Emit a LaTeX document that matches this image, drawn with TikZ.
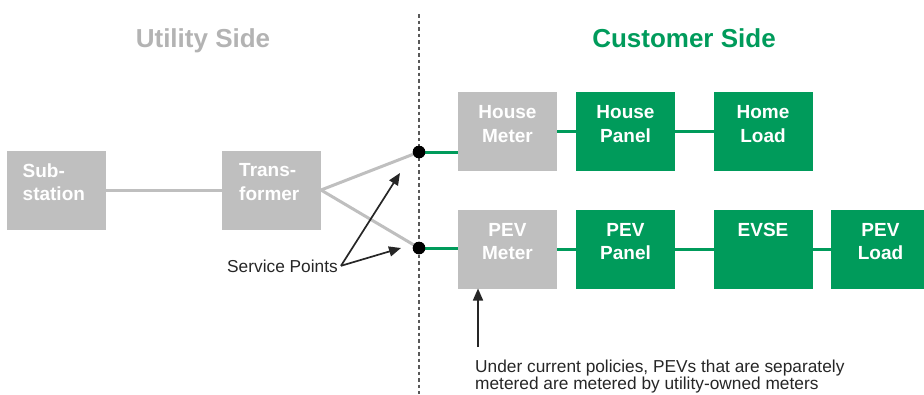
\documentclass[tikz,border=0pt]{standalone}
\usepackage{fontspec}
\setmainfont{Liberation Sans}
\usetikzlibrary{arrows.meta}
\definecolor{boxgray}{HTML}{BFBFBF}
\definecolor{titlegray}{HTML}{B3B3B3}
\definecolor{custgreen}{HTML}{009B5B}
\definecolor{arrowdark}{HTML}{262626}
\definecolor{divider}{HTML}{595959}
\tikzset{
  unit/.style={rectangle, minimum width=99pt, minimum height=79pt, inner sep=0pt, outer sep=0pt},
  utilbox/.style={unit, fill=boxgray},
  custbox/.style={unit, fill=custgreen},
  boxtext/.style={text=white, inner sep=0pt, font=\bfseries\fontsize{19}{23.5}\selectfont},
  title/.style={inner sep=0pt, font=\bfseries\fontsize{26}{30}\selectfont},
  feed/.style={draw=boxgray, line width=3pt},
  branch/.style={draw=custgreen, line width=3pt},
  pointer/.style={draw=arrowdark, line width=1.7pt, -{Triangle[length=12pt,width=10pt]}},
  junction/.style={circle, fill=black, minimum size=12.5pt, inner sep=0pt},
  remark/.style={inner sep=0pt, text=arrowdark, font=\fontsize{17.3}{16.7}\selectfont}
}
\begin{document}
\begin{tikzpicture}[x=1pt, y=-1pt]
\clip (0,0) rectangle (924,394);
\useasboundingbox (0,0) rectangle (924,394);

% headings
\node[title, text=titlegray, anchor=base] (uside) at (203,47) {Utility Side};
\node[title, text=custgreen, anchor=base] (cside) at (684,47) {Customer Side};

% boundary between utility and customer
\coordinate (divtop) at (419,14);
\coordinate (divbot) at (419,394);
\draw[divider, line width=1.3pt, dash pattern=on 3.5pt off 3pt] (divtop) -- (divbot);

% utility equipment
\node[utilbox] (sub) at (56,190) {};
\node[utilbox] (trans) at (271.5,190) {};
\node[boxtext, align=left, anchor=north west] at ([xshift=16pt,yshift=-13pt]sub.north west) {Sub-\\station};
\node[boxtext, align=left, anchor=north west] at ([xshift=17pt,yshift=-13pt]trans.north west) {Trans-\\former};

% meters
\node[utilbox] (hm) at (507.5,131.5) {};
\node[utilbox] (pm) at (507.5,249) {};

% customer equipment
\node[custbox] (hp) at (625.5,131.5) {};
\node[custbox] (hl) at (763,131.5) {};
\node[custbox] (pp) at (625.5,249) {};
\node[custbox] (ev) at (763,249) {};
\node[custbox] (pl) at (880.5,249) {};

\foreach \b/\t in {hm/{House\\Meter}, pm/{PEV\\Meter}, hp/{House\\Panel}, hl/{Home\\Load}, pp/{PEV\\Panel}, ev/{EVSE}, pl/{PEV\\Load}}
  \node[boxtext, align=center, anchor=north] at ([yshift=-13.5pt]\b.north) {\t};

% service points
\node[junction] (d1) at (419,152) {};
\node[junction] (d2) at (419,248) {};

% utility-side wiring
\draw[feed] (sub.east) -- (trans.west);
\draw[feed] (trans.east) -- (d1.center);
\draw[feed] (trans.east) -- (d2.center);

% customer-side wiring
\draw[branch] (d1.east) -- (d1 -| hm.west);
\draw[branch] (hm.east) -- (hp.west);
\draw[branch] (hp.east) -- (hl.west);
\draw[branch] (d2.east) -- (d2 -| pm.west);
\draw[branch] (pm.east) -- (pp.west);
\draw[branch] (pp.east) -- (ev.west);
\draw[branch] (ev.east) -- (pl.west);

% redraw junction dots on top of the wiring
\node[junction] at (d1) {};
\node[junction] at (d2) {};

% annotations
\node[remark, anchor=base west] (sp) at (227,272) {Service Points};
\coordinate (tip1) at (400,173);
\coordinate (tip2) at (401,248);
\draw[pointer] ([xshift=3pt]sp.east) -- (tip1);
\draw[pointer] ([xshift=3pt]sp.east) -- (tip2);

\node[remark, align=left, anchor=north west] (note) at (475,360)
  {Under current policies, PEVs that are separately\\metered are metered by utility-owned meters};
\coordinate (notetop) at (478,347);
\draw[pointer] (notetop) -- (notetop |- pm.south);
\end{tikzpicture}
\end{document}
